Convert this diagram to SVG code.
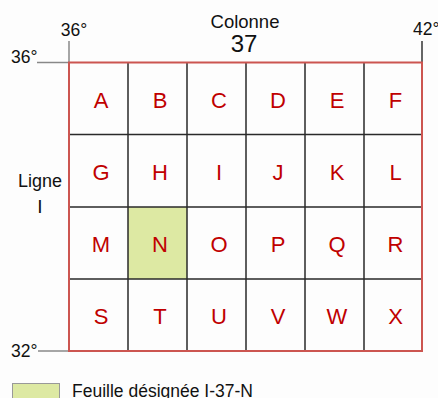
<svg xmlns="http://www.w3.org/2000/svg" width="438" height="398" viewBox="0 0 438 398">
<style>
.lbl{font-family:"Liberation Sans",Arial,sans-serif;fill:#111;}
.deg{font-size:17.5px;}
.let{font-family:"Liberation Sans",Arial,sans-serif;font-size:22px;fill:#c00000;text-anchor:middle;}
.grid{stroke:#2a2a2a;stroke-width:1.5;fill:none;}
.tick{stroke:#888;stroke-width:1.5;}
</style>
<rect width="438" height="398" fill="#fdfdfd"/>
<g id="highlight"><rect x="128" y="207" width="59" height="72" fill="#dde9a3"/></g>
<g id="connectors">
<line class="tick" x1="69" y1="41" x2="69" y2="62.5"/>
<line class="tick" x1="37" y1="62.5" x2="69" y2="62.5"/>
<line class="tick" x1="38" y1="351" x2="69" y2="351"/>
<line x1="422" y1="41" x2="422" y2="62.5" stroke="#333" stroke-width="1.5"/>
<path class="grid" d="M128 62.5V351M187 62.5V351M246 62.5V351M305 62.5V351M364 62.5V351M69 134.5H422M69 207H422M69 279H422"/>
<rect x="69" y="62.5" width="353" height="288.5" fill="none" stroke="#cc5550" stroke-width="2"/>
</g>
<g id="labels">
<text class="lbl deg" x="74" y="36" text-anchor="middle">36°</text>
<text class="lbl deg" x="413" y="35">42°</text>
<text class="lbl deg" x="11" y="63">36°</text>
<text class="lbl deg" x="11" y="357">32°</text>
<text class="lbl" x="245" y="28" text-anchor="middle" font-size="18.5">Colonne</text>
<text class="lbl" x="244" y="52" text-anchor="middle" font-size="24">37</text>
<text class="lbl" x="40" y="187" text-anchor="middle" font-size="18">Ligne</text>
<text class="lbl" x="40" y="213" text-anchor="middle" font-size="19">I</text>
</g>
<g id="cells">
<text class="let" x="101" y="108">A</text><text class="let" x="160" y="108">B</text><text class="let" x="219" y="108">C</text><text class="let" x="278" y="108">D</text><text class="let" x="337" y="108">E</text><text class="let" x="395.5" y="108">F</text>
<text class="let" x="101" y="180">G</text><text class="let" x="160" y="180">H</text><text class="let" x="219" y="180">I</text><text class="let" x="278" y="180">J</text><text class="let" x="337" y="180">K</text><text class="let" x="395.5" y="180">L</text>
<text class="let" x="101" y="252">M</text><text class="let" x="160" y="252">N</text><text class="let" x="219" y="252">O</text><text class="let" x="278" y="252">P</text><text class="let" x="337" y="252">Q</text><text class="let" x="395.5" y="252">R</text>
<text class="let" x="101" y="324">S</text><text class="let" x="160" y="324">T</text><text class="let" x="219" y="324">U</text><text class="let" x="278" y="324">V</text><text class="let" x="337" y="324">W</text><text class="let" x="395.5" y="324">X</text>
</g>
<g id="legend">
<rect x="12.5" y="383.5" width="47" height="20" fill="#dde9a3" stroke="#999" stroke-width="1"/>
<text class="lbl" x="72" y="396.5" font-size="17.5">Feuille désignée I-37-N</text>
</g>
</svg>
